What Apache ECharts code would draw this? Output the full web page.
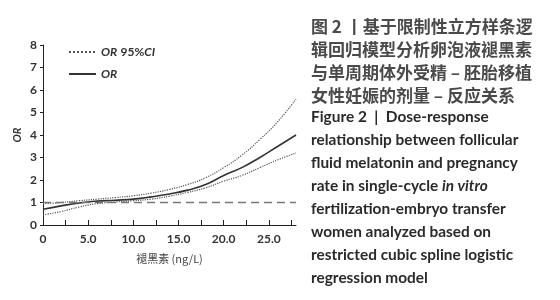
<!DOCTYPE html>
<html>
<head>
<meta charset="utf-8">
<script src="https://cdn.jsdelivr.net/npm/echarts@6/dist/echarts.min.js"></script>
<style>
    html, body {margin: 0; padding: 0; background: #fff;}
    #chart {width: 560px; height: 300px;}
</style>
</head>
<body>
<div id="chart"></div>
<script>
    // 褪黑素浓度 (ng/L)
    var melatonin = [0, 2, 4, 6, 8, 10, 12, 14, 16, 18, 20, 22, 24, 26, 28];
    // OR 及 95%CI
    var orValues = [0.70, 0.85, 0.98, 1.06, 1.10, 1.15, 1.25, 1.38, 1.55, 1.80, 2.20, 2.55, 3.00, 3.50, 4.00];
    var ciUpper = [0.95, 1.00, 1.08, 1.15, 1.22, 1.30, 1.42, 1.58, 1.80, 2.10, 2.55, 3.10, 3.80, 4.60, 5.60];
    var ciLower = [0.45, 0.60, 0.80, 0.95, 1.02, 1.08, 1.15, 1.28, 1.45, 1.65, 1.95, 2.20, 2.55, 2.90, 3.20];
    var refLine = [1, 1];
    var yTicks = [0, 1, 2, 3, 4, 5, 6, 7, 8];

    var cnCaption = [
        '图 2 丨基于限制性立方样条逻',
        '辑回归模型分析卵泡液褪黑素',
        '与单周期体外受精 – 胚胎移植',
        '女性妊娠的剂量 – 反应关系'
    ];
    var enCaption = [
        'Figure 2  |  Dose-response',
        'relationship between follicular',
        'fluid melatonin and pregnancy',
        'rate in single-cycle {i|in vitro}',
        'fertilization-embryo transfer',
        'women analyzed based on',
        'restricted cubic spline logistic',
        'regression model'
    ];

    function pairs(xs, ys) {
        return xs.map(function (x, i) { return [x, ys[i]]; });
    }

    var myChart = echarts.init(document.getElementById('chart'));

    var option = {
        animation: false,
        title: [
            {
                text: cnCaption.join('\n'),
                left: 306,
                top: 10,
                textStyle: {
                    fontFamily: 'Noto Sans CJK SC',
                    fontSize: 17,
                    fontWeight: 'bold',
                    color: '#4a4a4a',
                    lineHeight: 23
                }
            },
            {
                text: enCaption.join('\n'),
                left: 306,
                top: 100,
                textStyle: {
                    fontFamily: 'Lato',
                    fontSize: 15.4,
                    fontWeight: 'bold',
                    color: '#2a2a2a',
                    lineHeight: 23.1,
                    rich: {
                        i: {fontFamily: 'Lato', fontSize: 15.4, fontWeight: 'bold', fontStyle: 'italic', color: '#2a2a2a'}
                    }
                }
            }
        ],
        grid: {left: 43, top: 45, width: 253, height: 180},
        legend: {
            left: 63,
            top: 41,
            orient: 'vertical',
            itemWidth: 27,
            itemHeight: 10,
            itemGap: 10,
            data: ['OR 95%CI', 'OR'],
            itemStyle: {opacity: 0},
            formatter: function (name) {
                return name === 'OR' ? '{i|OR}' : '{i|OR} {n|95%}{i|CI}';
            },
            textStyle: {
                rich: {
                    i: {fontFamily: 'Lato', fontSize: 12, fontStyle: 'italic', fontWeight: 'bold', color: '#333'},
                    n: {fontFamily: 'Lato', fontSize: 12, fontWeight: 'bold', color: '#333'}
                }
            }
        },
        xAxis: {
            type: 'value',
            min: 0,
            max: 28,
            interval: 2.5,
            name: '褪黑素 (ng/L)',
            nameLocation: 'middle',
            nameGap: 28,
            nameTextStyle: {fontFamily: 'Noto Sans CJK SC', fontSize: 11, color: '#444'},
            axisLine: {lineStyle: {color: '#222', width: 1}},
            axisTick: {inside: true, length: 5, lineStyle: {color: '#222'}},
            splitLine: {show: false},
            axisLabel: {
                fontFamily: 'Lato',
                fontWeight: 'bold',
                fontSize: 12,
                color: '#333',
                margin: 8,
                showMaxLabel: false,
                formatter: function (v) {
                    return v % 5 === 0 ? v.toFixed(1) === '0.0' ? '0' : v.toFixed(1) : '';
                }
            }
        },
        yAxis: {
            type: 'value',
            min: yTicks[0],
            max: yTicks[yTicks.length - 1],
            interval: 1,
            name: 'OR',
            nameLocation: 'middle',
            nameGap: 20,
            nameTextStyle: {fontFamily: 'Lato', fontSize: 11, fontStyle: 'italic', fontWeight: 'bold', color: '#333'},
            axisLine: {show: true, lineStyle: {color: '#222', width: 1}},
            axisTick: {show: true, length: 3, lineStyle: {color: '#222'}},
            splitLine: {show: false},
            axisLabel: {fontFamily: 'Lato', fontWeight: 'bold', fontSize: 12, color: '#333', margin: 6}
        },
        series: [
            {
                name: 'OR 95%CI',
                type: 'line',
                smooth: true,
                symbol: 'none',
                data: pairs(melatonin, ciUpper),
                lineStyle: {color: '#555', width: 1.2, type: 'dotted'},
                itemStyle: {color: '#555'}
            },
            {
                name: 'OR 95%CI',
                type: 'line',
                smooth: true,
                symbol: 'none',
                data: pairs(melatonin, ciLower),
                lineStyle: {color: '#555', width: 1.2, type: 'dotted'},
                itemStyle: {color: '#555'}
            },
            {
                name: 'OR',
                type: 'line',
                smooth: true,
                symbol: 'none',
                data: pairs(melatonin, orValues),
                lineStyle: {color: '#333', width: 1.6},
                itemStyle: {color: '#333'}
            },
            {
                name: 'ref',
                type: 'line',
                symbol: 'none',
                silent: true,
                data: pairs([0, 28], refLine),
                lineStyle: {color: '#777', width: 1.3, type: [8, 5]}
            }
        ]
    };

    myChart.setOption(option);
</script>
</body>
</html>
